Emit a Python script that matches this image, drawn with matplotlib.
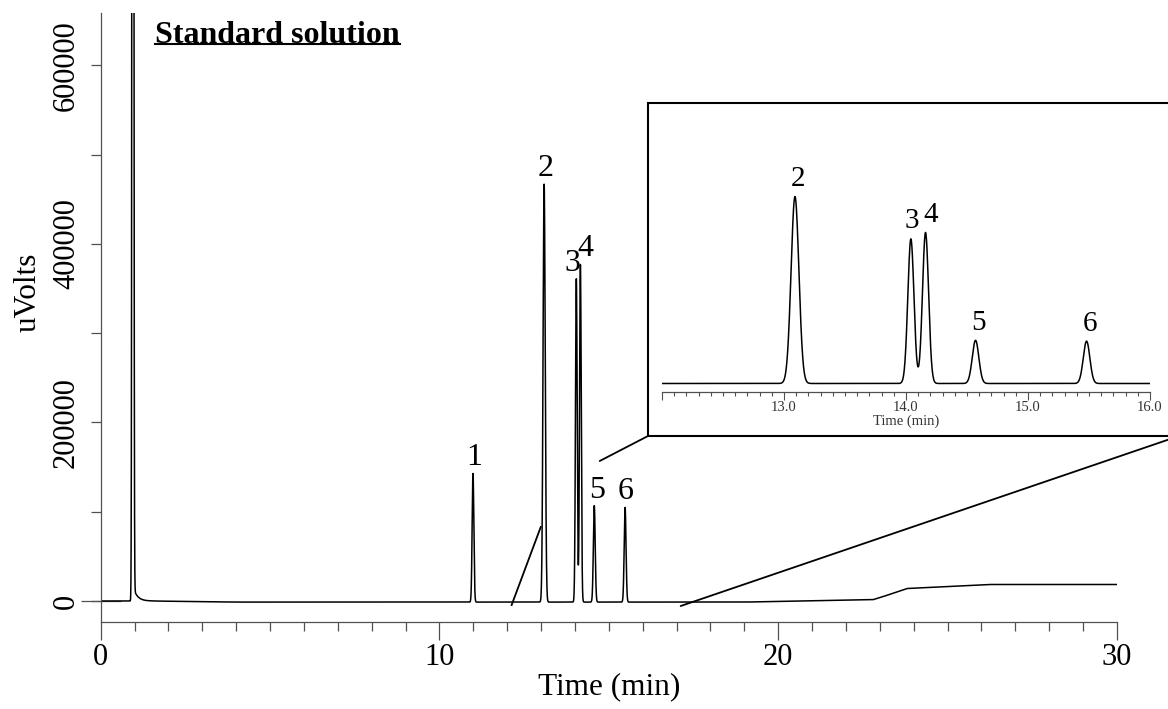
import matplotlib

matplotlib.use("Agg")
import matplotlib.pyplot as plt
import numpy as np
from matplotlib.patches import ConnectionPatch, Rectangle
from matplotlib.lines import Line2D
from matplotlib.ticker import MultipleLocator

plt.rcParams["font.family"] = ["Liberation Serif", "DejaVu Serif"]

# peak table
peak_ids = ["1", "2", "3", "4", "5", "6"]
peak_rt = [10.99, 13.09, 14.04, 14.16, 14.57, 15.48]          # min
peak_height = [144000, 468000, 362000, 378000, 108000, 106000]  # uV
peak_sigma = [0.025, 0.032, 0.025, 0.025, 0.027, 0.027]       # min

# solvent front (off scale) and its tail
solvent_rt, solvent_height, solvent_sigma = 0.95, 4.0e6, 0.018
tail_start, tail_amp, tail_tau = 0.99, 12000, 0.12

# baseline drift breakpoints (min, uV)
base_t = [0.0, 1.5, 4.0, 19.0, 22.8, 23.1, 23.8, 26.2, 30.0]
base_v = [0.0, 0.0, -1200, -1200, 1500, 5000, 14000, 18500, 18500]

t = np.arange(0.0, 30.0 + 1e-9, 0.002)
sig = np.interp(t, base_t, base_v)
sig += solvent_height * np.exp(-(t - solvent_rt) ** 2 / (2 * solvent_sigma ** 2))
sig += np.where(t >= tail_start, tail_amp * np.exp(-(t - tail_start) / tail_tau), 0.0)
for rt, h, s in zip(peak_rt, peak_height, peak_sigma):
    sig += h * np.exp(-(t - rt) ** 2 / (2 * s ** 2))

W, H = 1168, 709
fig = plt.figure(figsize=(W / 100, H / 100), dpi=100)
AX_COL = "#505050"

# ---- main chromatogram
ax = fig.add_axes([100.7 / W, 1 - 622 / H, (1117 - 100.7) / W, (622 - 13) / H])
ax.plot(t, sig, color="black", lw=1.1, zorder=2)
ax.set_xlim(0, 30)
ax.set_ylim(-23500, 658500)
for s in ["top", "right"]:
    ax.spines[s].set_visible(False)
for s in ["left", "bottom"]:
    ax.spines[s].set_color(AX_COL)
    ax.spines[s].set_linewidth(0.9)
ax.xaxis.set_major_locator(MultipleLocator(10))
ax.xaxis.set_minor_locator(MultipleLocator(1))
ax.yaxis.set_major_locator(MultipleLocator(200000))
ax.yaxis.set_minor_locator(MultipleLocator(100000))
ax.tick_params(axis="x", which="major", length=13, width=0.9, color=AX_COL, labelsize=22, pad=2)
ax.tick_params(axis="x", which="minor", length=6.5, width=0.9, color=AX_COL)
ax.tick_params(axis="y", which="both", length=7.2, width=0.9, color=AX_COL, labelsize=22, pad=7)
for lab in ax.get_yticklabels():
    lab.set_rotation(90)
    lab.set_va("center")
# the zero tick is drawn longer on the original
ax.plot([0], [0], marker="_", ms=29, mew=0.9, color=AX_COL, clip_on=False, zorder=1.5,
        transform=ax.get_yaxis_transform())
ax.set_xlabel("Time (min)", fontsize=22.5, labelpad=0)
ax.set_ylabel("uVolts", fontsize=22.5)
ax.yaxis.set_label_coords(-0.057, 0.542)

main_offsets = {"3": (-4, 0), "4": (5, 0), "5": (3, 0)}
for pid, rt, h in zip(peak_ids, peak_rt, peak_height):
    dx, dy = main_offsets.get(pid, (1, 0))
    ax.annotate(pid, (rt, h), xytext=(dx, dy), textcoords="offset pixels",
                ha="center", va="bottom", fontsize=23)

title = fig.text(155 / W, 1 - 43 / H, "Standard solution", fontsize=23, fontweight="bold",
                 ha="left", va="baseline")
fig.canvas.draw()
bb = title.get_window_extent()
fig.add_artist(Line2D([bb.x0, bb.x1], [H - 44, H - 44], transform=None, color="black", lw=1.5))

# ---- inset zoom 12-16 min
axi = fig.add_axes([662 / W, 1 - 392 / H, (1150 - 662) / W, (392 - 110) / H])
axi.plot(t, sig, color="black", lw=1.1)
axi.set_xlim(12, 16)
axi.set_ylim(-22500, 683300)
for s in ["top", "right", "left"]:
    axi.spines[s].set_visible(False)
axi.spines["bottom"].set_color(AX_COL)
axi.spines["bottom"].set_linewidth(0.9)
axi.set_yticks([])
axi.set_xticks([12, 13, 14, 15, 16])
axi.set_xticklabels(["", "13.0", "14.0", "15.0", "16.0"])
axi.xaxis.set_minor_locator(MultipleLocator(0.1))
axi.tick_params(axis="x", which="major", length=5.5, width=0.8, color=AX_COL,
                labelsize=10.5, labelcolor="#333333", pad=1)
axi.tick_params(axis="x", which="minor", length=2.8, width=0.8, color=AX_COL)
axi.set_xlabel("Time (min)", fontsize=10.5, labelpad=0, color="#333333")
inset_offsets = {"3": (1, 0), "4": (5, 0)}
for pid, rt, h in zip(peak_ids[1:], peak_rt[1:], peak_height[1:]):
    dx, dy = inset_offsets.get(pid, (3, 0))
    axi.annotate(pid, (rt, h), xytext=(dx, dy + 4), textcoords="offset pixels",
                 ha="center", va="bottom", fontsize=21)

# inset frame and zoom connectors
bx0, by0, bx1, by1 = 648 / W, 1 - 436 / H, 1179 / W, 1 - 103 / H
fig.add_artist(Rectangle((bx0, by0), bx1 - bx0, by1 - by0, transform=fig.transFigure,
                         fill=False, ec="black", lw=1.5, clip_on=False))
ax.plot([12.13, 12.99], [-4500, 82900], color="black", lw=1.3)
for xy_a, xy_b in [((14.73, 156800), (bx0, by0)), ((17.12, -5600), (bx1, by0))]:
    fig.add_artist(ConnectionPatch(xyA=xy_a, coordsA=ax.transData, xyB=xy_b,
                                   coordsB=fig.transFigure, color="black", lw=1.3))

fig.savefig("out.png", dpi=100)
